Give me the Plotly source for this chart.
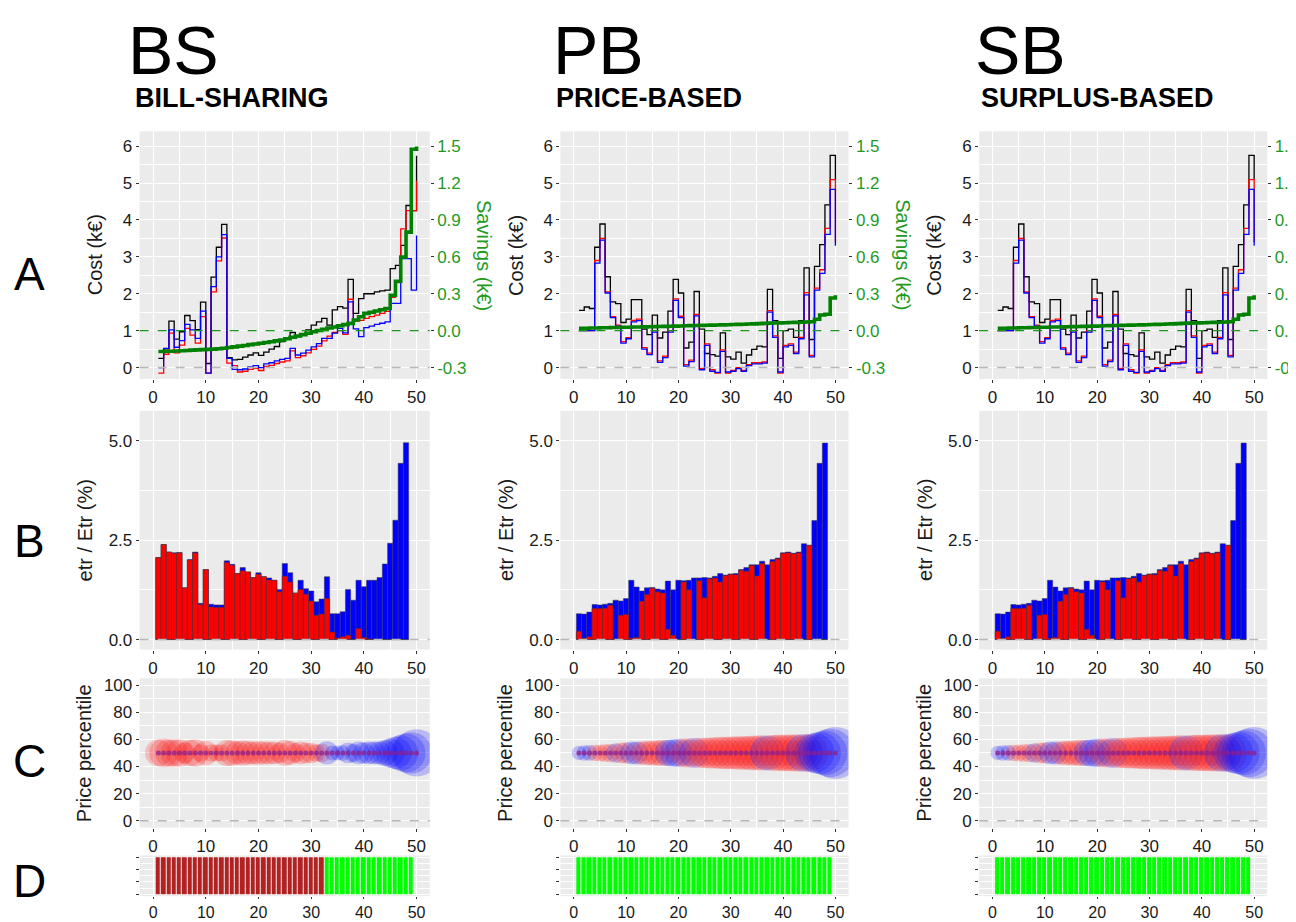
import plotly.graph_objects as go

FONT = "Liberation Sans, Arial, Helvetica, sans-serif"
W, H = 1296, 922

# ---------------- data ----------------
agents_A = list(range(1, 51))
agents_B = list(range(1, 49))
agents_C = list(range(1, 51))
agents_D = list(range(1, 50))
x_ticks = [0, 10, 20, 30, 40, 50]
sav_ticks = [-0.3, 0.0, 0.3, 0.6, 0.9, 1.2, 1.5]

# Row A : cost per agent (k€) and community savings (k€)
BS_cost_black = [0.25, 0.51, 1.26, 0.77, 0.97, 1.41, 1.27, 1.03, 1.77, 0.11,
                 2.45, 3.26, 3.88, 0.27, 0.21, 0.22, 0.28, 0.34, 0.40, 0.33,
                 0.42, 0.50, 0.57, 0.70, 0.80, 0.95, 0.84, 0.88, 1.02, 1.15,
                 1.24, 1.33, 1.15, 1.56, 1.65, 1.61, 2.39, 1.47, 1.87, 2.00,
                 2.00, 2.05, 2.08, 2.10, 2.68, 2.77, 3.31, 4.39, 4.25, 5.74]
BS_cost_red = [-0.15, 0.36, 0.93, 0.40, 0.61, 1.06, 0.88, 0.66, 1.38, -0.15,
               2.05, 2.89, 3.51, 0.12, 0.05, -0.12, -0.10, -0.05, -0.02, -0.08,
               0.03, 0.06, 0.11, 0.15, 0.18, 0.45, 0.27, 0.32, 0.40, 0.49,
               0.58, 0.72, 0.85, 0.95, 1.00, 0.90, 1.85, 1.26, 1.28, 1.33,
               1.38, 1.42, 1.47, 1.52, 1.90, 2.30, 3.76, 4.25, 4.25, 5.06]
BS_cost_blue = [0.00, 0.52, 1.02, 0.55, 0.73, 1.17, 1.02, 0.79, 1.53, -0.15,
                2.19, 3.00, 3.60, 0.25, -0.05, -0.06, -0.04, 0.02, 0.05, 0.00,
                0.10, 0.13, 0.18, 0.22, 0.25, 0.52, 0.34, 0.39, 0.47, 0.56,
                0.65, 0.79, 0.79, 0.93, 1.06, 0.94, 1.78, 1.05, 0.84, 1.08,
                1.12, 1.17, 1.20, 1.24, 1.74, 1.74, 2.95, 2.95, 2.10, 3.58]
BS_savings = [-0.170, -0.168, -0.167, -0.165, -0.163, -0.161, -0.158, -0.156, -0.154, -0.152,
              -0.150, -0.147, -0.143, -0.137, -0.132, -0.126, -0.121, -0.114, -0.108, -0.102,
              -0.096, -0.090, -0.083, -0.076, -0.066, -0.054, -0.043, -0.032, -0.021, -0.009,
              0.001, 0.010, 0.021, 0.030, 0.040, 0.049, 0.059, 0.086, 0.113, 0.140,
              0.149, 0.160, 0.170, 0.180, 0.288, 0.401, 0.598, 0.801, 1.475, 1.497]

PB_cost_black = [1.55, 1.64, 1.60, 3.26, 3.89, 2.46, 1.78, 1.73, 1.22, 1.31,
                 1.84, 1.84, 1.04, 0.89, 1.42, 0.80, 0.96, 1.53, 2.39, 2.02,
                 0.53, 0.69, 2.06, 1.04, 0.38, 0.35, 0.31, 0.94, 0.29, 0.23,
                 0.42, 0.12, 0.34, 0.49, 0.58, 0.56, 2.12, 1.27, 0.25, 1.00,
                 1.04, 0.82, 1.27, 2.70, 0.76, 2.74, 3.33, 4.41, 5.75, 5.10]
PB_cost_red = [1.00, 1.00, 1.00, 2.90, 3.50, 2.05, 1.38, 1.15, 0.70, 0.81,
               1.28, 1.31, 0.54, 0.39, 1.00, 0.18, 0.31, 1.00, 1.86, 1.39,
               0.08, 0.20, 1.44, -0.02, 0.64, -0.06, -0.15, 0.48, -0.15, -0.08,
               0.00, -0.08, 0.08, 0.13, 0.13, 0.15, 1.54, 0.86, -0.15, 0.60,
               0.64, 0.42, 0.82, 2.03, 0.33, 2.15, 2.65, 3.77, 5.09, 3.40]
PB_cost_blue = [1.00, 1.00, 1.00, 2.83, 3.45, 2.02, 1.35, 1.12, 0.66, 0.78,
                1.24, 1.27, 0.50, 0.35, 0.96, 0.14, 0.27, 0.96, 1.82, 1.35,
                0.04, 0.16, 1.40, -0.06, 0.60, -0.10, -0.13, 0.44, -0.12, -0.10,
                -0.03, -0.10, 0.05, 0.10, 0.10, 0.12, 1.50, 0.82, -0.12, 0.56,
                0.60, 0.38, 0.78, 1.97, 0.29, 2.10, 2.55, 3.61, 4.83, 3.30]
PB_savings = [0.019, 0.020, 0.021, 0.022, 0.023, 0.024, 0.025, 0.026, 0.027, 0.028,
              0.029, 0.030, 0.031, 0.032, 0.033, 0.034, 0.035, 0.036, 0.037, 0.038,
              0.040, 0.041, 0.042, 0.043, 0.044, 0.045, 0.046, 0.047, 0.048, 0.050,
              0.051, 0.052, 0.054, 0.055, 0.057, 0.059, 0.061, 0.062, 0.063, 0.064,
              0.066, 0.067, 0.068, 0.070, 0.072, 0.093, 0.127, 0.133, 0.265, 0.287]

SB_cost_black = list(PB_cost_black)
SB_cost_red = list(PB_cost_red)
SB_cost_blue = list(PB_cost_blue)
SB_savings = list(PB_savings)

# Row B : etr / Etr (%)  (total bar and red part)
BS_etr_total = [2.06, 2.39, 2.20, 2.18, 2.19, 1.30, 2.01, 2.20, 0.91, 1.76,
                0.89, 0.87, 0.87, 1.98, 1.89, 1.66, 1.81, 1.70, 1.56, 1.68,
                1.58, 1.55, 1.49, 1.26, 1.91, 1.68, 1.17, 1.49, 1.28, 1.22,
                0.95, 1.02, 1.58, 0.65, 0.65, 0.70, 1.26, 0.99, 1.49, 1.33,
                1.49, 1.49, 1.56, 1.90, 2.42, 3.00, 4.43, 4.95]
BS_etr_red = [2.06, 2.39, 2.20, 2.17, 2.18, 1.30, 2.00, 2.18, 0.88, 1.76,
              0.82, 0.81, 0.81, 1.94, 1.87, 1.66, 1.73, 1.70, 1.56, 1.64,
              1.58, 1.50, 1.49, 1.20, 1.59, 1.45, 1.17, 1.26, 1.14, 0.97,
              0.61, 0.64, 1.03, 0.19, 0.04, 0.07, 0.11, 0.00, 0.28, 0.05,
              0.02, 0.00, 0.00, 0.00, 0.00, 0.00, 0.00, 0.00]
PB_etr_total = [0.65, 0.64, 0.69, 0.88, 0.87, 0.89, 0.91, 0.99, 0.97, 1.03,
                1.49, 1.32, 1.22, 1.30, 1.31, 1.27, 1.25, 1.47, 1.25, 1.49,
                1.48, 1.49, 1.55, 1.55, 1.56, 1.55, 1.59, 1.66, 1.62, 1.65,
                1.66, 1.76, 1.81, 1.88, 1.88, 1.97, 1.88, 2.01, 2.05, 2.18,
                2.20, 2.17, 2.20, 2.41, 2.37, 2.99, 4.43, 4.94]
PB_etr_red = [0.21, 0.03, 0.07, 0.78, 0.78, 0.79, 0.86, 0.00, 0.61, 0.63,
              0.03, 0.05, 0.96, 1.13, 1.29, 1.20, 1.17, 0.26, 0.11, 0.00,
              1.45, 1.25, 0.00, 1.48, 1.05, 1.53, 1.55, 1.45, 1.61, 1.64,
              1.63, 1.74, 1.72, 1.86, 1.60, 1.91, 0.00, 1.96, 2.03, 2.17,
              2.18, 2.16, 2.18, 0.00, 2.37, 0.00, 0.00, 0.00]
SB_etr_total = list(PB_etr_total)
SB_etr_red = list(PB_etr_red)

# Row C : price percentile, bubble weight, group (R = red, B = blue)
BS_pct = [50, 50, 50, 50, 50, 50, 50, 50, 50, 50,
          50, 50, 50, 50, 50, 50, 50, 50, 50, 50,
          50, 50, 50, 50, 50, 50, 50, 50, 50, 50,
          50, 50, 50, 50, 50, 50, 50, 50, 50, 50,
          50, 50, 50, 50, 50, 50, 50, 50, 50, 50]
BS_weight = [2.06, 2.39, 2.20, 2.18, 2.19, 1.30, 2.01, 2.20, 0.91, 1.76,
             0.89, 0.87, 0.87, 1.98, 1.89, 1.66, 1.81, 1.70, 1.56, 1.68,
             1.58, 1.55, 1.49, 1.26, 1.91, 1.68, 1.17, 1.49, 1.28, 1.22,
             0.95, 1.02, 1.58, 0.65, 0.65, 0.70, 1.26, 0.99, 1.49, 1.33,
             1.49, 1.49, 1.56, 1.90, 2.42, 3.00, 3.60, 4.43, 4.95, 6.50]
BS_group = "RRRRRRRRRRRRRRRRRRRRRRRRRRRRRRRRBBBBBBBBBBBBBBBBBB"
PB_pct = list(BS_pct)
PB_weight = [0.60, 0.70, 0.72, 0.80, 0.85, 0.95, 1.00, 1.10, 1.25, 1.30,
             1.50, 1.55, 1.60, 1.75, 1.80, 1.90, 2.00, 2.05, 2.20, 2.30,
             2.40, 2.45, 2.60, 2.55, 2.70, 2.80, 2.85, 3.00, 3.05, 3.10,
             3.20, 3.25, 3.30, 3.45, 3.50, 3.60, 3.55, 3.70, 3.80, 3.85,
             3.90, 4.00, 4.05, 4.10, 4.20, 4.60, 5.20, 5.80, 6.80, 7.80]
PB_group = "BBBRRRRBRRBBRRRRRBBBRRBRRRRRRRRRRRRRBRRRRRRBRBBBBB"
SB_pct = list(PB_pct)
SB_weight = list(PB_weight)
SB_group = PB_group

# Row D : tile state (R = loss, G = gain)
BS_tiles = "RRRRRRRRRRRRRRRRRRRRRRRRRRRRRRRRGGGGGGGGGGGGGGGGG"
PB_tiles = "GGGGGGGGGGGGGGGGGGGGGGGGGGGGGGGGGGGGGGGGGGGGGGGGG"
SB_tiles = "GGGGGGGGGGGGGGGGGGGGGGGGGGGGGGGGGGGGGGGGGGGGGGGGG"

schemes = [
    dict(key="BS", title="BS", sub="BILL-SHARING",
         black=BS_cost_black, red=BS_cost_red, blue=BS_cost_blue, sav=BS_savings,
         etr_t=BS_etr_total, etr_r=BS_etr_red, pct=BS_pct, w=BS_weight, grp=BS_group,
         tiles=BS_tiles),
    dict(key="PB", title="PB", sub="PRICE-BASED",
         black=PB_cost_black, red=PB_cost_red, blue=PB_cost_blue, sav=PB_savings,
         etr_t=PB_etr_total, etr_r=PB_etr_red, pct=PB_pct, w=PB_weight, grp=PB_group,
         tiles=PB_tiles),
    dict(key="SB", title="SB", sub="SURPLUS-BASED",
         black=SB_cost_black, red=SB_cost_red, blue=SB_cost_blue, sav=SB_savings,
         etr_t=SB_etr_total, etr_r=SB_etr_red, pct=SB_pct, w=SB_weight, grp=SB_group,
         tiles=SB_tiles),
]

# ---------------- layout geometry (pixels) ----------------
col_px = [(133, 426), (558, 849), (981, 1272)]
row_px = [(122, 371), (403, 643), (672, 822), (850, 891)]
title_px = [(119, 126), (548, 552), (975, 981)]   # (big title x, subtitle x)
XR = [-2.55, 52.5]
YR_A = [-0.31, 6.40]
SAV_OFF, SAV_SCALE = 1.0, 0.3       # savings axis aligned to cost axis
YR_S = [(YR_A[0] - SAV_OFF) * SAV_SCALE, (YR_A[1] - SAV_OFF) * SAV_SCALE]
YR_B = [-0.25, 5.75]
YR_C = [-5, 105]
YR_D = [-0.55, 0.55]

GREEN_TXT = "#1f9a1f"
TXT = "#1a1a1a"


def dom_x(c):
    a, b = col_px[c]
    return [a / W, b / W]


def dom_y(r):
    a, b = row_px[r]
    return [1 - b / H, 1 - a / H]


def nm(prefix, i):
    return prefix if i == 1 else f"{prefix}{i}"


fig = go.Figure()
layout = dict(width=W, height=H, margin=dict(l=0, r=0, t=0, b=0),
              paper_bgcolor="white", plot_bgcolor="#EBEBEB", showlegend=False,
              barmode="overlay", font=dict(family=FONT, color=TXT))
shapes = []
annotations = []

tickfont = dict(size=17, color=TXT, family=FONT)
common = dict(showgrid=True, gridcolor="white", gridwidth=1.4, zeroline=False,
              ticks="outside", ticklen=3, tickwidth=1, tickcolor="#333333",
              tickfont=tickfont, showline=False, fixedrange=True)


def hline(xn, yn, yval, color, width):
    return dict(type="line", xref=f"{xn} domain", yref=yn, x0=0, x1=1, y0=yval, y1=yval,
                line=dict(color=color, width=width, dash="dash"), layer="above")


for c, s in enumerate(schemes):
    for r in range(4):
        i = r * 3 + c + 1
        xn, yn = nm("x", i), nm("y", i)
        xa = dict(common, domain=dom_x(c), anchor=yn, range=XR, tick0=0, dtick=10,
                  minor=dict(dtick=5, showgrid=True, gridcolor="white", gridwidth=0.7))
        if r == 0:
            ya = dict(common, domain=dom_y(r), anchor=xn, range=YR_A, tick0=0, dtick=1,
                      minor=dict(dtick=0.5, showgrid=True, gridcolor="white", gridwidth=0.7))
        elif r == 1:
            ya = dict(common, domain=dom_y(r), anchor=xn, range=YR_B, tick0=0, dtick=2.5,
                      tickformat=".1f",
                      minor=dict(dtick=1.25, showgrid=True, gridcolor="white", gridwidth=0.7))
        elif r == 2:
            ya = dict(common, domain=dom_y(r), anchor=xn, range=YR_C, tick0=0, dtick=20,
                      minor=dict(dtick=10, showgrid=True, gridcolor="white", gridwidth=0.7))
        else:
            ya = dict(common, domain=dom_y(r), anchor=xn, range=YR_D,
                      tickmode="array", tickvals=[-0.5, -1 / 6, 1 / 6, 0.5],
                      showticklabels=False, ticklen=3,
                      minor=dict(tick0=0, dtick=1 / 3,
                                 showgrid=True, gridcolor="white", gridwidth=0.7))
        if r == 3:
            xa["tickfont"] = dict(size=16, color=TXT, family=FONT)
            xa["ticklen"] = 2
        layout[nm("xaxis", i)] = xa
        layout[nm("yaxis", i)] = ya

    # ---- row A ----
    i = c + 1
    xn, yn = nm("x", i), nm("y", i)
    ys2 = f"y{13 + c}"
    layout[f"yaxis{13 + c}"] = dict(
        overlaying=yn, side="right", anchor=xn, range=YR_S,
        tickmode="array", tickvals=sav_ticks, ticktext=[f"{v:.1f}" for v in sav_ticks],
        showgrid=False, zeroline=False, ticks="outside", ticklen=3, tickcolor="#333333",
        tickfont=dict(size=17, color=GREEN_TXT, family=FONT), fixedrange=True)
    shapes.append(hline(xn, yn, 0, "#B8B8B8", 1.5))
    shapes.append(hline(xn, yn, SAV_OFF, "#1a9a1a", 1.3))
    for series, col in ((s["black"], "black"), (s["red"], "#FF0000"), (s["blue"], "#0000FF")):
        fig.add_trace(go.Scatter(x=agents_A, y=series, mode="lines",
                                 line=dict(color=col, width=1.3, shape="hv"),
                                 xaxis=xn, yaxis=yn, hoverinfo="skip"))
    fig.add_trace(go.Scatter(x=agents_A, y=s["sav"], mode="lines",
                             line=dict(color="#008000", width=3.6, shape="hv"),
                             xaxis=xn, yaxis=ys2, hoverinfo="skip"))

    # ---- row B ----
    i = 3 + c + 1
    xn, yn = nm("x", i), nm("y", i)
    fig.add_trace(go.Bar(x=agents_B, y=s["etr_t"], width=1,
                         marker=dict(color="#0000FF", line=dict(color="#3a3a3a", width=0.5)),
                         xaxis=xn, yaxis=yn, hoverinfo="skip"))
    fig.add_trace(go.Bar(x=agents_B, y=s["etr_r"], width=1,
                         marker=dict(color="#FF0000", line=dict(color="#3a3a3a", width=0.5)),
                         xaxis=xn, yaxis=yn, hoverinfo="skip"))
    shapes.append(hline(xn, yn, 0, "#B8B8B8", 1.5))

    # ---- row C ----
    i = 6 + c + 1
    xn, yn = nm("x", i), nm("y", i)
    shapes.append(hline(xn, yn, 0, "#B8B8B8", 1.5))
    bub_col = ["rgba(255,0,0,0.28)" if g == "R" else "rgba(0,0,255,0.30)" for g in s["grp"]]
    fig.add_trace(go.Scatter(x=agents_C, y=s["pct"], mode="markers",
                             marker=dict(size=s["w"], sizemode="area", sizeref=0.0058,
                                         color=bub_col, line=dict(width=0)),
                             xaxis=xn, yaxis=yn, hoverinfo="skip", cliponaxis=True))
    fig.add_trace(go.Scatter(x=agents_C, y=s["pct"], mode="markers",
                             marker=dict(size=5, color="rgba(140,30,140,0.75)", line=dict(width=0)),
                             xaxis=xn, yaxis=yn, hoverinfo="skip"))

    # ---- row D ----
    i = 9 + c + 1
    xn, yn = nm("x", i), nm("y", i)
    zrow = [0 if t == "R" else 1 for t in s["tiles"]]
    fig.add_trace(go.Heatmap(x=agents_D, y=[0], z=[zrow], zmin=0, zmax=1,
                             colorscale=[[0, "#B22222"], [1, "#00FF00"]],
                             showscale=False, xgap=1, xaxis=xn, yaxis=yn, hoverinfo="skip"))

    # ---- text ----
    left, right = col_px[c]
    tx, sx = title_px[c]
    annotations.append(dict(text=s["title"], x=tx / W, y=1.0,
                            xref="paper", yref="paper", xanchor="left", yanchor="top",
                            showarrow=False, font=dict(size=68, color="black", family=FONT)))
    annotations.append(dict(text=f"<b>{s['sub']}</b>", x=sx / W, y=1 - 88 / H,
                            xref="paper", yref="paper", xanchor="left", yanchor="middle",
                            showarrow=False, font=dict(size=27, color="black", family=FONT)))
    for txt, dx, r in (("Cost (k€)", 45, 0), ("etr / Etr (%)", 55, 1), ("Price percentile", 56, 2)):
        a, b = row_px[r]
        annotations.append(dict(text=txt, x=(left - dx) / W, y=1 - (a + b) / 2 / H,
                                xref="paper", yref="paper", xanchor="center", yanchor="middle",
                                textangle=-90, showarrow=False,
                                font=dict(size=20, color=TXT, family=FONT)))
    a, b = row_px[0]
    annotations.append(dict(text="Savings (k€)", x=(right + 55) / W, y=1 - (a + b) / 2 / H,
                            xref="paper", yref="paper", xanchor="center", yanchor="middle",
                            textangle=90, showarrow=False,
                            font=dict(size=20, color=GREEN_TXT, family=FONT)))

for lab, cy in (("A", 265), ("B", 534), ("C", 755), ("D", 876)):
    annotations.append(dict(text=lab, x=22 / W, y=1 - cy / H, xref="paper", yref="paper",
                            xanchor="center", yanchor="middle", showarrow=False,
                            font=dict(size=46, color="black", family=FONT)))

layout["shapes"] = shapes
layout["annotations"] = annotations
fig.update_layout(**layout)
fig.write_html("out.html")
